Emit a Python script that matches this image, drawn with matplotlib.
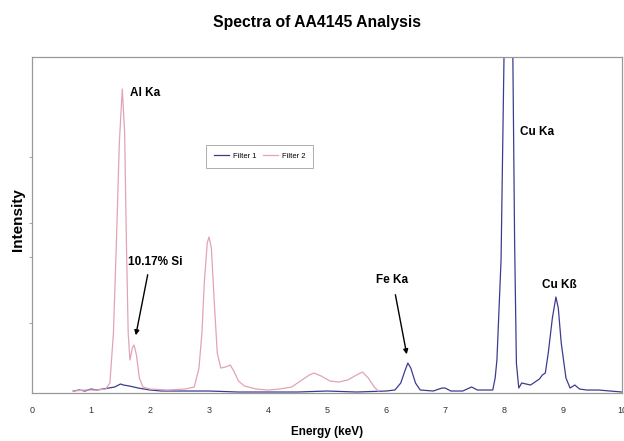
import matplotlib
matplotlib.use("Agg")
import matplotlib.pyplot as plt

plt.rcParams['font.family'] = ['Liberation Sans', 'DejaVu Sans']

# spectra (energy in keV, intensity in arbitrary counts)
energy_f1 = [0.70, 0.80, 0.90, 1.00, 1.10, 1.20, 1.30, 1.40, 1.50, 1.55, 1.65, 1.80, 2.00, 2.20,
             2.50, 3.00, 3.50, 4.00, 4.50, 5.00, 5.50, 6.00, 6.15, 6.25, 6.32, 6.37, 6.42, 6.50,
             6.58, 6.80, 6.95, 7.00, 7.10, 7.30, 7.45, 7.55, 7.70, 7.81, 7.85, 7.88, 7.95, 8.00,
             8.07, 8.15, 8.18, 8.21, 8.25, 8.30, 8.45, 8.55, 8.60, 8.65, 8.70, 8.75, 8.82, 8.88,
             8.92, 8.97, 9.05, 9.12, 9.20, 9.28, 9.40, 9.60, 9.80, 10.00]
intensity_f1 = [20, 30, 20, 40, 30, 40, 50, 60, 90, 80, 70, 50, 30, 20,
                20, 20, 10, 10, 10, 20, 10, 20, 30, 100, 220, 300, 250, 100,
                30, 20, 50, 50, 20, 20, 60, 30, 30, 30, 150, 330, 1330, 3360,
                4800, 3360, 1500, 300, 50, 100, 80, 120, 140, 180, 200, 400, 750, 960,
                850, 500, 150, 50, 80, 40, 30, 30, 20, 10]

energy_f2 = [0.70, 0.90, 1.10, 1.25, 1.32, 1.38, 1.43, 1.48, 1.53, 1.57, 1.60, 1.63, 1.66, 1.70,
             1.73, 1.77, 1.82, 1.88, 2.00, 2.30, 2.60, 2.75, 2.83, 2.88, 2.92, 2.97, 3.00, 3.04,
             3.09, 3.14, 3.20, 3.28, 3.36, 3.42, 3.50, 3.60, 3.80, 4.00, 4.20, 4.40, 4.55, 4.70,
             4.78, 4.90, 5.05, 5.20, 5.35, 5.50, 5.60, 5.70, 5.80, 5.87]
intensity_f2 = [20, 30, 30, 40, 100, 600, 1500, 2500, 3040, 2600, 1500, 600, 330, 450,
                480, 380, 150, 60, 40, 30, 40, 60, 250, 600, 1100, 1500, 1560, 1450,
                900, 400, 250, 260, 280, 220, 120, 70, 40, 30, 40, 60, 120, 180,
                200, 170, 120, 110, 130, 180, 210, 150, 60, 20]

fig = plt.figure(figsize=(6.24, 4.41), dpi=100)
ax = fig.add_axes([0.0513, 0.1088, 0.9455, 0.762])

ax.plot(energy_f1, intensity_f1, color="#3c3c8e", lw=0.9, label="Filter 1")
ax.plot(energy_f2, intensity_f2, color="#e3a3b4", lw=0.9, label="Filter 2")

ax.set_xlim(0, 10)
ax.set_ylim(0, 3360)
ax.set_xticks(range(11))
ax.set_yticks([700, 1360, 1700, 2360])
ax.set_yticklabels([])
ax.tick_params(axis="x", length=0, pad=9, labelsize=6.5, labelcolor="#333333")
ax.tick_params(axis="y", length=2, color="#aaaaaa")
for s in ax.spines.values():
    s.set_color("#999999")
    s.set_linewidth(0.9)

fig.text(0.508, 0.95, "Spectra of AA4145 Analysis", ha="center", va="center",
         fontsize=11.3, fontweight="bold")
ax.set_xlabel("Energy (keV)", fontsize=8.5, fontweight="bold", labelpad=8)
ax.set_ylabel("Intensity", fontsize=11, fontweight="bold")
ax.yaxis.set_label_coords(-0.012, 0.515)

lab = dict(fontsize=8.5, fontweight="bold", va="center", ha="left")
ax.text(1.66, 3000, "Al Ka", **lab)
ax.text(1.63, 1310, "10.17% Si", **lab)
ax.text(5.83, 1130, "Fe Ka", **lab)
ax.text(8.27, 2610, "Cu Ka", **lab)
ax.text(8.64, 1080, "Cu Kß", **lab)

arrow = dict(arrowstyle="-|>", color="black", lw=1.0, mutation_scale=7)
ax.annotate("", xy=(1.75, 550), xytext=(1.97, 1210), arrowprops=arrow)
ax.annotate("", xy=(6.36, 360), xytext=(6.15, 1010), arrowprops=arrow)

leg = ax.legend(loc="upper left", bbox_to_anchor=(0.295, 0.738), ncol=2, fontsize=5.5,
                frameon=True, fancybox=False, handlelength=2.0, borderpad=1.0,
                columnspacing=0.9, handletextpad=0.5, borderaxespad=0)
leg.get_frame().set_edgecolor("#888888")
leg.get_frame().set_linewidth(0.6)

fig.savefig("out.png", dpi=100)
